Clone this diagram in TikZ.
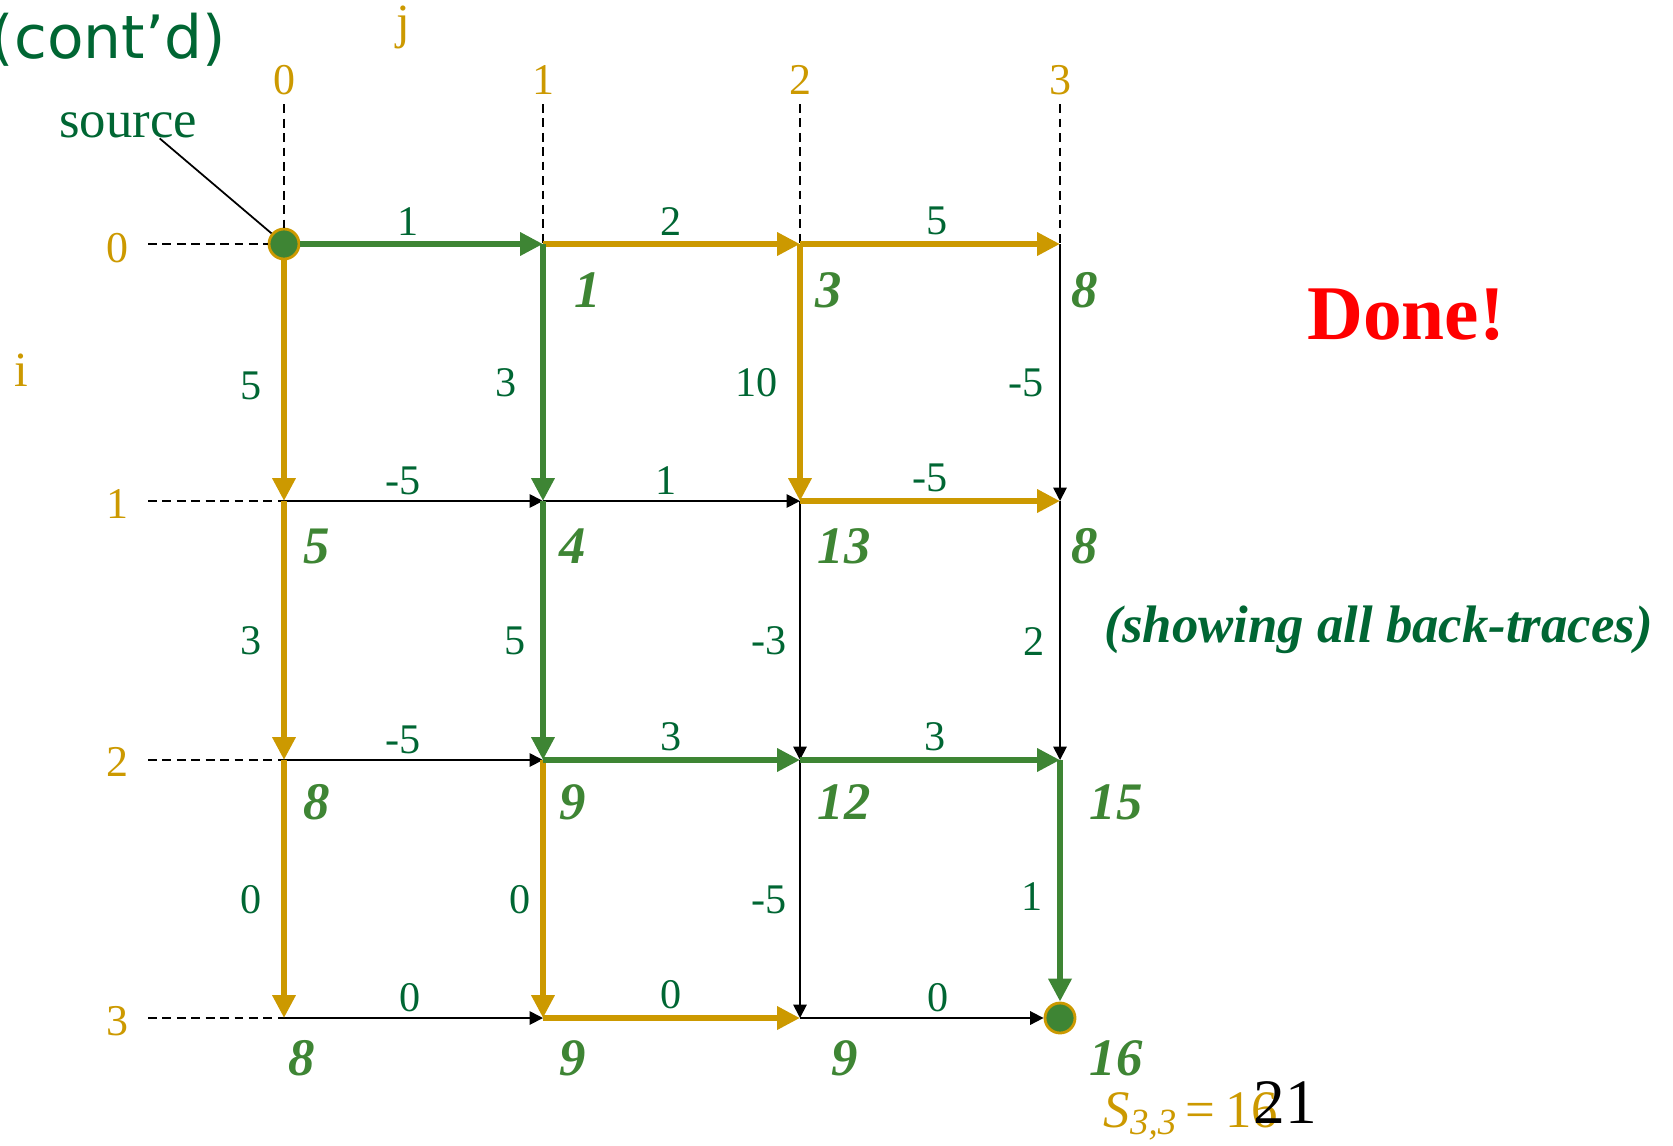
\documentclass[tikz,border=0pt]{standalone}
\usepackage{fontspec}
\setmainfont{Liberation Serif}
\newfontfamily\contfont{DejaVu Sans}
\usetikzlibrary{arrows.meta}

\definecolor{dpgold}{RGB}{204,153,0}
\definecolor{dpgreen}{RGB}{62,133,52}
\definecolor{dpdark}{RGB}{0,102,51}

\begin{document}
\begin{tikzpicture}[
    x=0.01cm, y=-0.01cm,
    goldedge/.style={draw=dpgold, line width=1.9pt,
                     -{Triangle[length=6.5pt, width=6.3pt]}},
    greenedge/.style={draw=dpgreen, line width=1.9pt,
                      -{Triangle[length=6.5pt, width=6.3pt]}},
    thinedge/.style={draw=black, line width=0.5pt,
                     -{Triangle[length=3.8pt, width=3.8pt]}},
    guide/.style={draw=black, line width=0.45pt, dash pattern=on 2.5pt off 1.6pt},
    wt/.style={font=\fontsize{12}{14}\selectfont, text=dpdark, inner sep=1pt},
    wtabove/.style={wt, midway, above=0.6pt},
    wtleft/.style={wt, midway, left=4.5pt, yshift=-3pt},
    score/.style={font=\fontsize{15}{18}\selectfont\bfseries\itshape,
                  text=dpgreen, inner sep=0pt},
    idx/.style={font=\fontsize{12.5}{14}\selectfont, text=dpgold, inner sep=0pt},
    endpt/.style={circle, fill=dpgreen, draw=dpgold, line width=0.8pt,
                  minimum size=0.3cm, inner sep=0pt},
]
    \useasboundingbox (0,0) rectangle (1673,1145);

    % grid points
    \coordinate (n01) at (543,244);
    \coordinate (n02) at (800,244);
    \coordinate (n03) at (1060,244);
    \coordinate (n10) at (284,501);
    \coordinate (n11) at (543,501);
    \coordinate (n12) at (800,501);
    \coordinate (n13) at (1060,501);
    \coordinate (n20) at (284,760);
    \coordinate (n21) at (543,760);
    \coordinate (n22) at (800,760);
    \coordinate (n23) at (1060,760);
    \coordinate (n30) at (284,1018);
    \coordinate (n31) at (543,1018);
    \coordinate (n32) at (800,1018);
    \node[endpt] (src) at (284,244) {};
    \node[endpt] (snk) at (1060,1018) {};

    % titles and index labels
    \node[font=\contfont\fontsize{17}{20}\selectfont, text=dpdark, anchor=east,
          inner sep=0pt] (title) at (226,40) {(cont’d)};
    \node[idx, font=\fontsize{14}{16}\selectfont] (jlabel) at (403,27) {j};
    \node[idx, font=\fontsize{14}{16}\selectfont] (ilabel) at (21,370) {i};
    \node[idx] (c0) at (284,80) {0};
    \node[idx] (c1) at (543,80) {1};
    \node[idx] (c2) at (800,80) {2};
    \node[idx] (c3) at (1060,80) {3};
    \node[idx] (r0) at (117,248) {0};
    \node[idx] (r1) at (117,504) {1};
    \node[idx] (r2) at (117,762) {2};
    \node[idx] (r3) at (117,1021) {3};
    \node[font=\fontsize{15}{18}\selectfont, text=dpdark, inner sep=0pt]
        (source) at (128,125) {source};

    \draw[guide, shorten <=2.5pt] (c0) -- (src);
    \draw[guide, shorten <=2.5pt] (c1) -- (n01);
    \draw[guide, shorten <=2.5pt] (c2) -- (n02);
    \draw[guide, shorten <=2.5pt] (c3) -- (n03);
    \draw[guide, shorten <=5.5pt] (r0.east |- src) -- (src);
    \draw[guide, shorten <=5.5pt] (r1.east |- n10) -- (n10);
    \draw[guide, shorten <=5.5pt] (r2.east |- n20) -- (n20);
    \draw[guide, shorten <=5.5pt] (r3.east |- n30) -- (n30);
    \draw[line width=0.5pt] ([xshift=9pt]source.south) -- (src);

    % horizontal edges
    \draw[thinedge] (n10) -- (n11) node[wtabove, xshift=-3pt] {-5};
    \draw[thinedge] (n11) -- (n12) node[wtabove, xshift=-1.5pt] {1};
    \draw[thinedge] (n20) -- (n21) node[wtabove, xshift=-3pt] {-5};
    \draw[thinedge] (n30) -- (n31) node[wtabove, xshift=-1pt] {0};
    \draw[thinedge] (n32) -- (snk) node[wtabove, xshift=4.5pt] {0};
    % vertical edges
    \draw[thinedge] (n12) -- (n22) node[wtleft, xshift=2pt] {-3};
    \draw[thinedge] (n22) -- (n32) node[wtleft, xshift=2pt] {-5};
    \draw[thinedge] (n03) -- (n13) node[wtleft, xshift=1pt] {-5};
    \draw[thinedge] (n13) -- (n23) node[wtleft, xshift=1.5pt] {2};

    % back-traces
    \draw[greenedge] (src) -- (n01) node[wtabove, xshift=-4pt] {1};
    \draw[goldedge] (n01) -- (n02) node[wtabove] {2};
    \draw[goldedge] (n02) -- (n03) node[wtabove, xshift=2pt] {5};
    \draw[goldedge] (n12) -- (n13) node[wtabove] {-5};
    \draw[goldedge] (n31) -- (n32) node[wtabove] {0};
    \draw[goldedge] (src) -- (n10) node[wtleft, yshift=1.5pt] {5};
    \draw[goldedge] (n10) -- (n20) node[wtleft] {3};
    \draw[goldedge] (n20) -- (n30) node[wtleft] {0};
    \draw[goldedge] (n21) -- (n31) node[wtleft, xshift=3pt] {0};
    \draw[goldedge] (n02) -- (n12) node[wtleft] {10};
    \draw[greenedge] (n01) -- (n11) node[wtleft, xshift=-1pt] {3};
    \draw[greenedge] (n11) -- (n21) node[wtleft, xshift=1.5pt] {5};
    \draw[greenedge] (n21) -- (n22) node[wtabove] {3};
    \draw[greenedge] (n22) -- (n23) node[wtabove, xshift=1.5pt] {3};
    \draw[greenedge] (n23) -- (snk) node[wtleft, xshift=1.5pt, yshift=-1.5pt] {1};

    % scores
    \node[score] (v01) at (588,290) {1};
    \node[score] (v02) at (829,290) {3};
    \node[score] (v03) at (1085,290) {8};
    \node[score] (v10) at (317,546) {5};
    \node[score] (v11) at (573,546) {4};
    \node[score] (v12) at (844,546) {13};
    \node[score] (v13) at (1085,546) {8};
    \node[score] (v20) at (317,802) {8};
    \node[score] (v21) at (573,802) {9};
    \node[score] (v22) at (844,802) {12};
    \node[score] (v23) at (1116,802) {15};
    \node[score] (v30) at (302,1058) {8};
    \node[score] (v31) at (573,1058) {9};
    \node[score] (v32) at (845,1058) {9};
    \node[score] (v33) at (1116,1058) {16};

    \node[font=\fontsize{22}{26}\selectfont\bfseries, text=red] (done)
        at (1406,315) {Done!};
    \node[font=\fontsize{15}{18}\selectfont\bfseries\itshape, text=dpdark,
          anchor=west, inner sep=0pt] (note) at (1104,630)
        {(showing all back-traces)};
    \node[font=\fontsize{15}{18}\selectfont, text=dpgold, anchor=base west,
          inner sep=0pt] (total) at (1103,1127)
        {\textit{S}\textsubscript{\textit{3,3}}\kern2pt=\kern3pt16};
    \node[font=\fontsize{18}{22}\selectfont, anchor=base west, inner sep=0pt]
        (pagenum) at (1253,1123) {21};
\end{tikzpicture}
\end{document}
